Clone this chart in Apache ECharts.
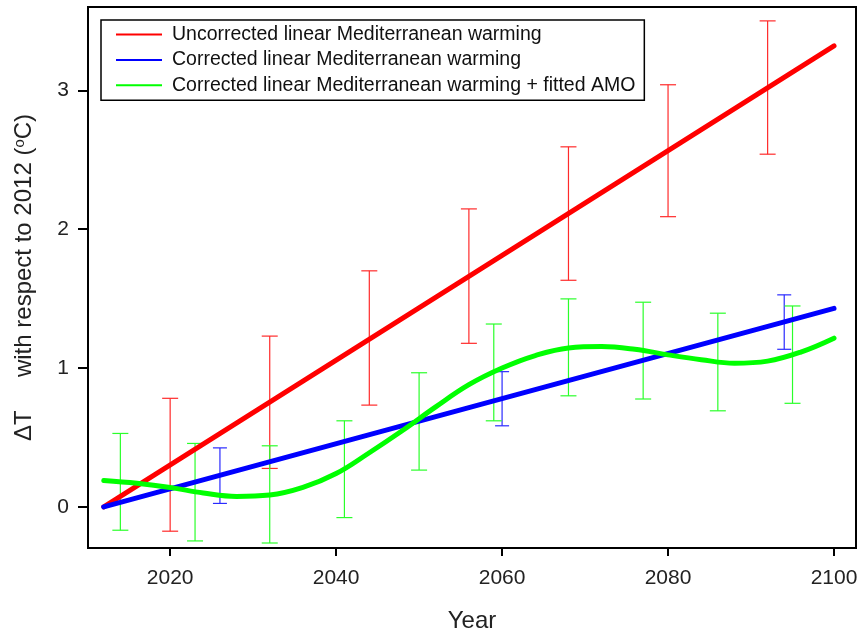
<!DOCTYPE html>
<html>
<head>
<meta charset="utf-8">
<script src="https://cdn.jsdelivr.net/npm/echarts@6/dist/echarts.min.js"></script>
<style>html,body{margin:0;padding:0;background:#fff}#c{width:858px;height:636px}</style>
</head>
<body>
<div id="c"></div>
<script>
// ---- data ----
const xTicks = [2020, 2040, 2060, 2080, 2100];
const yTicks = [0, 1, 2, 3];

const redYears = [2012, 2100];
const redVals = [0, 3.32];
const blueYears = [2012, 2100];
const blueVals = [0, 1.43];

const greenYears = [2012, 2016, 2020, 2024, 2028, 2032, 2036, 2040, 2044, 2048, 2052, 2056, 2060, 2064, 2068, 2072, 2076, 2080, 2084, 2088, 2092, 2096, 2100];
const greenVals  = [0.19, 0.17, 0.14, 0.10, 0.075, 0.085, 0.14, 0.24, 0.39, 0.55, 0.72, 0.88, 1.00, 1.09, 1.145, 1.155, 1.135, 1.095, 1.06, 1.035, 1.05, 1.115, 1.215];

const redBarYears = [2020, 2032, 2044, 2056, 2068, 2080, 2092];
const redLow  = [-0.175, 0.277, 0.733, 1.178, 1.632, 2.09, 2.54];
const redHigh = [0.782, 1.23, 1.70, 2.146, 2.593, 3.04, 3.50];

const blueBarYears = [2026, 2060, 2094];
const blueLow  = [0.025, 0.584, 1.135];
const blueHigh = [0.425, 0.974, 1.527];

const greenBarYears = [2014, 2023, 2032, 2041, 2050, 2059, 2068, 2077, 2086, 2095];
const greenLow  = [-0.168, -0.245, -0.26, -0.077, 0.265, 0.62, 0.80, 0.777, 0.692, 0.746];
const greenHigh = [0.529, 0.457, 0.44, 0.62, 0.966, 1.317, 1.498, 1.474, 1.395, 1.447];

const names = [
  'Uncorrected linear Mediterranean warming',
  'Corrected linear Mediterranean warming',
  'Corrected linear Mediterranean warming + fitted AMO'
];
// ---- build ----
const zip2 = (a, b) => a.map((v, i) => [v, b[i]]);
const zip3 = (a, b, c) => a.map((v, i) => [v, b[i], c[i]]);

function errBar(color, hw) {
  return function (params, api) {
    const x = api.value(0), lo = api.value(1), hi = api.value(2);
    const pt = api.coord([x, hi]), pb = api.coord([x, lo]);
    const st = { stroke: color, lineWidth: 1.2, fill: null };
    return {
      type: 'group',
      children: [
        { type: 'line', shape: { x1: pt[0], y1: pt[1], x2: pb[0], y2: pb[1] }, style: st },
        { type: 'line', shape: { x1: pt[0] - hw, y1: pt[1], x2: pt[0] + hw, y2: pt[1] }, style: st },
        { type: 'line', shape: { x1: pb[0] - hw, y1: pb[1], x2: pb[0] + hw, y2: pb[1] }, style: st }
      ]
    };
  };
}

const FONT = "'Liberation Sans', Arial, sans-serif";
const chart = echarts.init(document.getElementById('c'), null, { renderer: 'canvas' });
chart.setOption({
  animation: false,
  backgroundColor: '#fff',
  grid: { left: 88, top: 7, right: 2, bottom: 88, containLabel: false, outerBoundsMode: 'none',
          show: true, borderColor: '#000', borderWidth: 2, backgroundColor: 'transparent' },
  legend: {
    data: names,
    orient: 'vertical',
    left: 101, top: 20,
    icon: 'rect', itemWidth: 46, itemHeight: 2, itemGap: 5.4,
    padding: [4.5, 9, 5, 15],
    borderColor: '#000', borderWidth: 1.5,
    textStyle: { fontFamily: FONT, fontSize: 19.5, color: '#111', padding: [0, 0, 0, 5] }
  },
  xAxis: {
    type: 'value', min: 2010.1, max: 2102.65,
    name: 'Year', nameLocation: 'middle', nameGap: 61,
    nameTextStyle: { fontFamily: FONT, fontSize: 24, color: '#222' },
    axisLine: { show: true, onZero: false, lineStyle: { color: '#000', width: 2 } },
    axisTick: { show: true, length: 8, lineStyle: { color: '#000', width: 2 }, customValues: xTicks },
    axisLabel: { fontFamily: FONT, fontSize: 21, color: '#222', margin: 20, customValues: xTicks,
                 formatter: v => String(v) },
    splitLine: { show: false }
  },
  yAxis: {
    type: 'value', min: -0.296, max: 3.6,
    name: '{a|ΔT     with respect to 2012 (}{s|o}{a|C)}', nameLocation: 'middle', nameGap: 51, nameRotate: 90,
    nameTextStyle: { fontFamily: FONT, fontSize: 24, color: '#222',
      rich: {
        a: { fontFamily: FONT, fontSize: 24, color: '#222' },
        s: { fontFamily: FONT, fontSize: 15, color: '#222', verticalAlign: 'top', padding: [0, 0, 10, 0] }
      } },
    axisLine: { show: true, onZero: false, lineStyle: { color: '#000', width: 2 } },
    axisTick: { show: true, length: 10, lineStyle: { color: '#000', width: 2 }, customValues: yTicks },
    axisLabel: { fontFamily: FONT, fontSize: 21, color: '#222', margin: 19, customValues: yTicks,
                 formatter: v => String(v) },
    splitLine: { show: false }
  },
  series: [
    { type: 'custom', renderItem: errBar('#ff2a2a', 8), data: zip3(redBarYears, redLow, redHigh), z: 2, silent: true },
    { type: 'custom', renderItem: errBar('#2a2aff', 7), data: zip3(blueBarYears, blueLow, blueHigh), z: 2, silent: true },
    { type: 'custom', renderItem: errBar('#2aff2a', 8), data: zip3(greenBarYears, greenLow, greenHigh), z: 2, silent: true },
    { name: names[0], type: 'line', data: zip2(redYears, redVals), showSymbol: false, color: '#ff0000',
      lineStyle: { width: 5, color: '#ff0000', cap: 'round' }, z: 5 },
    { name: names[1], type: 'line', data: zip2(blueYears, blueVals), showSymbol: false, color: '#0000ff',
      lineStyle: { width: 5, color: '#0000ff', cap: 'round' }, z: 5 },
    { name: names[2], type: 'line', data: zip2(greenYears, greenVals), showSymbol: false, smooth: 0.4, color: '#00ff00',
      lineStyle: { width: 5, color: '#00ff00', cap: 'round' }, z: 6 }
  ]
});
</script>
</body>
</html>
